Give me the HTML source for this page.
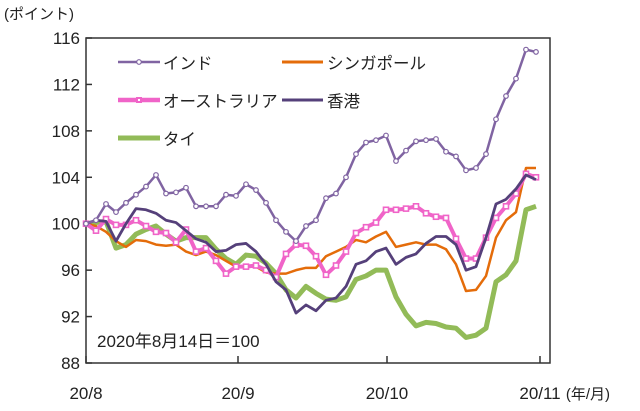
<!DOCTYPE html>
<html><head><meta charset="utf-8"><style>
body{margin:0;background:#fff;}
svg text{font-family:"Liberation Sans","Noto Sans CJK JP",sans-serif;fill:#222;}
</style></head><body>
<svg id="chart" width="640" height="406" viewBox="0 0 640 406" xmlns="http://www.w3.org/2000/svg">
<text x="4" y="19" font-size="15">(ポイント)</text>
<text x="610" y="399" font-size="15" text-anchor="end">(年/月)</text>
<rect x="86" y="38" width="464" height="325" fill="none" stroke="#333" stroke-width="1.5"/>
<g id="axes"></g>
<g id="series"></g>
<text x="97" y="347" font-size="17">2020年8月14日＝100</text>
<g>
<g><line x1="118" y1="62" x2="160" y2="62" stroke="#8064a2" stroke-width="2.5"/><circle cx="139" cy="62" r="2.3" fill="#fff" stroke="#8064a2" stroke-width="1.2"/><text x="163" y="69" font-size="16.5">インド</text></g>
<g><line x1="282" y1="62" x2="323" y2="62" stroke="#e46c0a" stroke-width="3"/><text x="327" y="69" font-size="16.5">シンガポール</text></g>
<g><line x1="118" y1="100" x2="160" y2="100" stroke="#f064c8" stroke-width="4.5"/><rect x="136" y="97" width="6" height="6" fill="#f064c8"/><rect x="138" y="99" width="2" height="2" fill="#fff"/><text x="163" y="107" font-size="16.5">オーストラリア</text></g>
<g><line x1="282" y1="100" x2="323" y2="100" stroke="#55407a" stroke-width="3"/><text x="327" y="107" font-size="16.5">香港</text></g>
<g><line x1="118" y1="138" x2="160" y2="138" stroke="#92bb58" stroke-width="5"/><text x="163" y="145" font-size="16.5">タイ</text></g>
</g>
</svg>
<script>
const yTicks=[88,92,96,100,104,108,112,116];
const xLabels=["20/8","20/9","20/10","20/11"];
const xLabelIdx=[0,15.2,30.1,45.4];
const india=[100,100.3,101.7,101,101.8,102.5,103.2,104.2,102.6,102.7,103.1,101.5,101.5,101.5,102.5,102.4,103.4,102.9,101.8,100.3,99.3,98.5,99.8,100.3,102.2,102.6,104,106,107,107.2,107.6,105.4,106.3,107.1,107.2,107.3,106.2,105.8,104.6,104.8,106,109,111,112.5,115,114.8];
const singapore=[100,99.8,99.3,98.5,98,98.6,98.5,98.2,98.1,98.2,97.6,97.3,97.6,97.3,96.8,96.3,96.3,96.3,95.8,95.7,95.7,96,96.2,96.2,97.2,97.6,98,98.6,98.4,98.9,99.3,98,98.2,98.4,98.2,98.2,97.8,96.5,94.2,94.3,95.5,98.8,100.3,101,104.8,104.8];
const australia=[100,99.4,100.4,99.9,99.9,100.3,99.8,99.3,99.2,98.4,99.5,97.6,97.9,96.8,95.7,96.3,96.3,96.4,96,95.4,97.4,98.2,98.1,97.2,95.6,96.4,97.6,99.2,99.7,100.1,101.2,101.2,101.3,101.5,100.9,100.6,100.5,98.7,97,97,98.8,100.5,101.5,102.6,104.3,104];
const hongkong=[100,100.3,100.2,98.5,100,101.3,101.2,100.9,100.3,100.1,99.4,98.7,98.4,97.6,97.7,98.2,98.3,97.6,96.5,95,94.3,92.3,93,92.5,93.4,93.6,94.6,96.5,96.8,97.6,97.9,96.5,97.1,97.4,98.3,98.9,98.9,98.2,96,96.3,98.8,101.7,102.1,103,104.2,103.8];
const thailand=[100,100.1,100.2,97.9,98.2,99.1,99.5,99.8,99.1,98.5,98.8,98.8,98.8,97.8,97,96.5,97.3,97.2,96.6,95.7,94.3,93.6,94.6,94,93.5,93.4,93.7,95.2,95.5,96,96,93.7,92.2,91.2,91.5,91.4,91.1,91,90.2,90.4,91,95,95.6,96.8,101.2,101.5];
const NS="http://www.w3.org/2000/svg";
function xs(i){return 86+i*10;}
function ys(v){return 363-(v-88)*(325/28);}
const axes=document.getElementById('axes');
yTicks.forEach(t=>{
  const tx=document.createElementNS(NS,'text');
  
  
  tx.setAttribute('x',80);tx.setAttribute('y',ys(t)+6);tx.setAttribute('font-size','17');tx.setAttribute('text-anchor','end');
  tx.textContent=t;axes.appendChild(tx);
  const l=document.createElementNS(NS,'line');
  
  
  l.setAttribute('x1',86);l.setAttribute('x2',92);l.setAttribute('y1',ys(t));l.setAttribute('y2',ys(t));l.setAttribute('stroke','#333');l.setAttribute('stroke-width','1.5');
  axes.appendChild(l);
});
xLabels.forEach((s,k)=>{
  const x=xs(xLabelIdx[k]);
  const tx=document.createElementNS(NS,'text');
  
  
  tx.setAttribute('x',x);tx.setAttribute('y',399);tx.setAttribute('font-size','17');tx.setAttribute('text-anchor','middle');
  tx.textContent=s;axes.appendChild(tx);
  const l=document.createElementNS(NS,'line');
  
  
  l.setAttribute('x1',x);l.setAttribute('x2',x);l.setAttribute('y1',363);l.setAttribute('y2',356);l.setAttribute('stroke','#333');l.setAttribute('stroke-width','1.5');
  axes.appendChild(l);
});
const g=document.getElementById('series');
function draw(arr,name,color,w,marker){
  const p=document.createElementNS(NS,'polyline');
  
  
  p.setAttribute('points',arr.map((v,i)=>xs(i)+','+ys(v)).join(' '));
  p.setAttribute('fill','none');p.setAttribute('stroke',color);p.setAttribute('stroke-width',w);p.setAttribute('stroke-linejoin','round');
  g.appendChild(p);
  if(marker){arr.forEach((v,i)=>{
    let m;
    if(marker==='circle'){m=document.createElementNS(NS,'circle');m.setAttribute('cx',xs(i));m.setAttribute('cy',ys(v));m.setAttribute('r',2.3);m.setAttribute('stroke',color);m.setAttribute('stroke-width','1.2');}
    else{m=document.createElementNS(NS,'rect');m.setAttribute('x',xs(i)-2.5);m.setAttribute('y',ys(v)-2.5);m.setAttribute('width',5);m.setAttribute('height',5);m.setAttribute('stroke',color);m.setAttribute('stroke-width','1.6');}
    
    
    m.setAttribute('fill','#fff');g.appendChild(m);
  });}
}
draw(thailand,'thailand','#92bb58',5,null);
draw(singapore,'singapore','#e46c0a',2.5,null);
draw(australia,'australia','#f064c8',4,'square');
draw(hongkong,'hongkong','#55407a',2.8,null);
draw(india,'india','#8064a2',2.5,'circle');
</script>
</body></html>
